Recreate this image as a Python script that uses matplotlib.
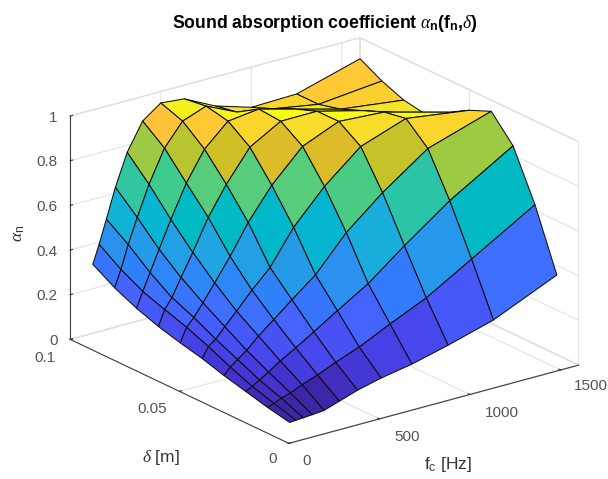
import numpy as np
import matplotlib
matplotlib.use("Agg")
import matplotlib.pyplot as plt
from matplotlib.colors import ListedColormap, Normalize

freq = [125, 160, 200, 250, 315, 400, 500, 630, 800, 1000, 1250, 1600]
delta = [0.01, 0.02, 0.03, 0.04, 0.05, 0.06, 0.07, 0.08, 0.09, 0.10]
alpha_d01 = [.020, .022, .024, .027, .032, .055, .082, .108, .133, .174, .232, .357]
alpha_d02 = [.040, .050, .065, .078, .100, .125, .160, .200, .266, .339, .458, .625]
alpha_d03 = [.065, .080, .100, .125, .160, .200, .250, .316, .400, .526, .673, .842]
alpha_d04 = [.090, .120, .145, .175, .225, .280, .347, .430, .582, .717, .860, .950]
alpha_d05 = [.120, .165, .190, .235, .290, .365, .445, .596, .742, .877, .948, .908]
alpha_d06 = [.143, .205, .240, .295, .370, .470, .600, .738, .875, .943, .930, .853]
alpha_d07 = [.170, .238, .283, .362, .460, .598, .724, .862, .941, .942, .890, .797]
alpha_d08 = [.205, .273, .349, .442, .561, .705, .835, .932, .949, .905, .850, .814]
alpha_d09 = [.250, .325, .428, .538, .672, .815, .914, .953, .889, .860, .825, .853]
alpha_d10 = [.309, .391, .495, .627, .769, .890, .949, .939, .870, .820, .825, .906]
x_ticks = [0, 500, 1000, 1500]
y_ticks = [0, 0.05, 0.1]
y_tick_labels = ['0', '0.05', '0.1']
z_ticks = [0, 0.2, 0.4, 0.6, 0.8, 1]
z_tick_labels = ['0', '0.2', '0.4', '0.6', '0.8', '1']

parula_colors = [
    (0.2422, 0.1504, 0.6603), (0.2504, 0.1650, 0.7076), (0.2578, 0.1818, 0.7511), (0.2647, 0.1978, 0.7952),
    (0.2706, 0.2147, 0.8364), (0.2751, 0.2342, 0.8710), (0.2783, 0.2559, 0.8991), (0.2803, 0.2782, 0.9221),
    (0.2813, 0.3006, 0.9414), (0.2810, 0.3228, 0.9579), (0.2795, 0.3447, 0.9717), (0.2760, 0.3667, 0.9829),
    (0.2699, 0.3892, 0.9906), (0.2602, 0.4123, 0.9952), (0.2440, 0.4358, 0.9988), (0.2206, 0.4603, 0.9973),
    (0.1963, 0.4847, 0.9892), (0.1834, 0.5074, 0.9798), (0.1786, 0.5289, 0.9682), (0.1764, 0.5499, 0.9520),
    (0.1687, 0.5703, 0.9359), (0.1540, 0.5902, 0.9218), (0.1460, 0.6091, 0.9079), (0.1380, 0.6276, 0.8973),
    (0.1248, 0.6459, 0.8883), (0.1113, 0.6635, 0.8763), (0.0952, 0.6798, 0.8598), (0.0689, 0.6948, 0.8394),
    (0.0297, 0.7082, 0.8163), (0.0036, 0.7203, 0.7917), (0.0067, 0.7312, 0.7660), (0.0433, 0.7411, 0.7394),
    (0.0964, 0.7500, 0.7120), (0.1408, 0.7584, 0.6842), (0.1717, 0.7670, 0.6554), (0.1938, 0.7758, 0.6251),
    (0.2161, 0.7843, 0.5923), (0.2470, 0.7918, 0.5567), (0.2906, 0.7973, 0.5188), (0.3406, 0.8008, 0.4789),
    (0.3909, 0.8029, 0.4354), (0.4456, 0.8024, 0.3909), (0.5044, 0.7993, 0.3480), (0.5616, 0.7942, 0.3045),
    (0.6174, 0.7876, 0.2612), (0.6720, 0.7793, 0.2227), (0.7242, 0.7698, 0.1910), (0.7738, 0.7598, 0.1646),
    (0.8203, 0.7498, 0.1535), (0.8634, 0.7406, 0.1596), (0.9035, 0.7330, 0.1774), (0.9393, 0.7288, 0.2100),
    (0.9728, 0.7298, 0.2394), (0.9956, 0.7434, 0.2371), (0.9970, 0.7659, 0.2199), (0.9952, 0.7893, 0.2028),
    (0.9892, 0.8136, 0.1885), (0.9786, 0.8386, 0.1766), (0.9676, 0.8639, 0.1643), (0.9610, 0.8890, 0.1537),
    (0.9597, 0.9135, 0.1423), (0.9628, 0.9373, 0.1265), (0.9691, 0.9606, 0.1064), (0.9769, 0.9839, 0.0805)]

plt.rcParams['font.family'] = ['Liberation Sans', 'DejaVu Sans']
plt.rcParams['mathtext.fontset'] = 'custom'
plt.rcParams['mathtext.rm'] = 'Liberation Sans'
plt.rcParams['mathtext.it'] = 'Liberation Serif:italic'
plt.rcParams['mathtext.bf'] = 'Liberation Sans:bold'

Z = np.array([alpha_d01, alpha_d02, alpha_d03, alpha_d04, alpha_d05,
              alpha_d06, alpha_d07, alpha_d08, alpha_d09, alpha_d10])
X, Y = np.meshgrid(freq, delta)

W, H = 608, 479
fig = plt.figure(figsize=(W / 100, H / 100), dpi=100)
S = 550
L, B = 42, -44
ax = fig.add_axes([L / W, B / H, S / W, S / H], projection='3d', proj_type='ortho')
ax.set_box_aspect((362.6, 363, 239), zoom=1.0)
ax.view_init(elev=21, azim=-127)

cmap = ListedColormap(parula_colors, name='parula')
norm = Normalize(Z.min(), Z.max())
ax.plot_surface(X, Y, Z, rstride=1, cstride=1, facecolors=cmap(norm(Z)), shade=False,
                edgecolor=(0.05, 0.05, 0.05), linewidth=0.75, antialiased=True)

ax.set_xlim(0, 1600)
ax.set_ylim(0, 0.1)
ax.set_zlim(0, 1)
ax.set_xticks(x_ticks)
ax.set_yticks(y_ticks, y_tick_labels)
ax.set_zticks(z_ticks, z_tick_labels)
tc = (0.33, 0.33, 0.33)
ax.tick_params(axis='both', labelsize=11, labelcolor=tc, colors=(0.2, 0.2, 0.2), pad=2)
for a in (ax.xaxis, ax.yaxis, ax.zaxis):
    a.set_pane_color((1, 1, 1, 1))
    a.pane.set_edgecolor((0.87, 0.87, 0.87))
    a.line.set_color((0.25, 0.25, 0.25))
    a.line.set_linewidth(0.8)
    a._axinfo['grid'].update(color=(0.88, 0.88, 0.88), linewidth=0.7)
    a._axinfo['tick'].update(inward_factor=0.0, outward_factor=0.1)
    a.set_rotate_label(False)

lc = (0.2, 0.2, 0.2)
ax.set_xlabel(r'f$_{\mathrm{c}}$ [Hz]', fontsize=12.5, color=lc, labelpad=14)
ax.set_ylabel(r'$\delta$ [m]', fontsize=12.5, color=lc, labelpad=10)
ax.set_zlabel(r'$\alpha_{\mathrm{n}}$', fontsize=12.5, color=lc, rotation=90, labelpad=10)


PX = 1.85 / 10 / S


def nudge(text, dx, dy):
    """Shift a 3D axis text by a pixel offset each time the axis places it."""
    place = text.set_position
    text.set_position = lambda xy: place((xy[0] + dx * PX, xy[1] + dy * PX))


nudge(ax.xaxis.label, -23, -5)
nudge(ax.yaxis.label, 25, -21)
nudge(ax.zaxis.label, 26, -10)
for t, dx, dy in zip(ax.xaxis.get_major_ticks(), (7, 17, 21, 20), (5, 5, 4, 7)):
    nudge(t.label1, dx, dy)
for t, dx, dy in zip(ax.yaxis.get_major_ticks(), (-2, -13, -11), (6, 4, 3)):
    nudge(t.label1, dx, dy)
for t in ax.zaxis.get_major_ticks():
    t.label1.set_ha('right')
    nudge(t.label1, 12, 4)

ax.set_title(r'Sound absorption coefficient $\alpha_{\mathbf{n}}$(f$_{\mathbf{n}}$,$\delta$)',
             fontsize=12.7, fontweight='bold', color='k', x=(325 - L) / S, y=(443 - B) / S / 0.92)

fig.savefig('out.png', dpi=100)
